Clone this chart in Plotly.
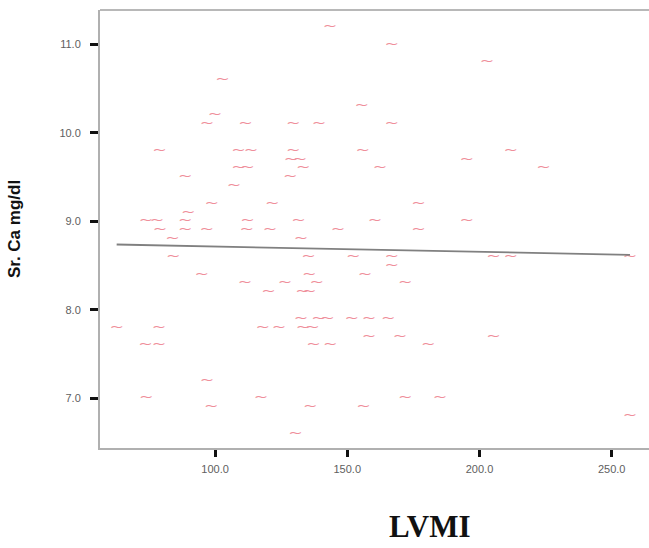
import numpy as np
import plotly.graph_objects as go

# LVMI (x) and serum calcium (y), one entry per subject
lvmi = [143.5, 166.8, 202.8, 102.8, 155.5, 100.0, 97.0, 111.5, 129.6, 139.3,
        166.8, 79.0, 108.9, 113.6, 129.6, 155.9, 211.8, 128.7, 132.1, 195.2,
        108.9, 112.3, 133.4, 162.4, 224.2, 88.7, 128.4, 107.2, 98.8, 121.6,
        176.9, 89.9, 73.9, 78.1, 88.7, 112.3, 131.6, 160.5, 195.2, 79.2,
        88.7, 96.9, 112.0, 120.8, 146.5, 176.9, 83.9, 132.5, 84.2, 135.3,
        152.3, 166.8, 205.3, 211.8, 256.9, 166.8, 95.0, 135.6, 156.7, 111.3,
        126.5, 138.5, 171.9, 120.2, 133.1, 135.6, 132.5, 139.1, 142.5, 151.7,
        158.2, 165.5, 62.8, 78.8, 118.0, 124.2, 133.3, 136.9, 158.2, 169.9,
        205.3, 73.7, 78.8, 137.2, 143.6, 180.6, 97.0, 74.0, 117.4, 171.9,
        185.1, 98.6, 136.0, 156.1, 256.9, 130.4]
calcium = [11.2, 11.0, 10.8, 10.6, 10.3, 10.2, 10.1, 10.1, 10.1, 10.1,
           10.1, 9.8, 9.8, 9.8, 9.8, 9.8, 9.8, 9.7, 9.7, 9.7,
           9.6, 9.6, 9.6, 9.6, 9.6, 9.5, 9.5, 9.4, 9.2, 9.2,
           9.2, 9.1, 9.0, 9.0, 9.0, 9.0, 9.0, 9.0, 9.0, 8.9,
           8.9, 8.9, 8.9, 8.9, 8.9, 8.9, 8.8, 8.8, 8.6, 8.6,
           8.6, 8.6, 8.6, 8.6, 8.6, 8.5, 8.4, 8.4, 8.4, 8.3,
           8.3, 8.3, 8.3, 8.2, 8.2, 8.2, 7.9, 7.9, 7.9, 7.9,
           7.9, 7.9, 7.8, 7.8, 7.8, 7.8, 7.8, 7.8, 7.7, 7.7,
           7.7, 7.6, 7.6, 7.6, 7.6, 7.6, 7.2, 7.0, 7.0, 7.0,
           7.0, 6.9, 6.9, 6.9, 6.8, 6.6]

x_ticks = [100.0, 150.0, 200.0, 250.0]
y_ticks = [7.0, 8.0, 9.0, 10.0, 11.0]

# least-squares linear fit over the observed LVMI range
slope, intercept = np.polyfit(lvmi, calcium, 1)
fit_x = np.array([min(lvmi), max(lvmi)])
fit_y = slope * fit_x + intercept

fig = go.Figure()
fig.add_trace(go.Scatter(
    x=lvmi, y=calcium, mode="text", text=["\u2053"] * len(lvmi),
    textfont=dict(family="DejaVu Sans", size=12, color="#ef8e9a"),
    hoverinfo="x+y", showlegend=False,
))
fig.add_trace(go.Scatter(
    x=fit_x, y=fit_y, mode="lines",
    line=dict(color="#808080", width=1.8), showlegend=False,
))

axis_font = dict(family="Arial", size=11, color="#606060")
fig.update_layout(
    width=649, height=548,
    margin=dict(l=100, r=0, t=10, b=100),
    paper_bgcolor="white", plot_bgcolor="white",
    xaxis=dict(
        range=[56.5, 264.1], tickvals=x_ticks,
        ticktext=[f"{v:.1f}" for v in x_ticks],
        showgrid=False, zeroline=False,
        showline=True, linecolor="#b0b0b0", linewidth=2,
        ticks="outside", ticklen=7, tickwidth=3, tickcolor="#111111",
        tickfont=axis_font, ticklabelstandoff=3,
    ),
    yaxis=dict(
        range=[6.44, 11.39], tickvals=y_ticks,
        ticktext=[f"{v:.1f}" for v in y_ticks],
        showgrid=False, zeroline=False,
        showline=True, linecolor="#b0b0b0", linewidth=2,
        ticks="outside", ticklen=8, tickwidth=3, tickcolor="#111111",
        tickfont=axis_font, ticklabelstandoff=7,
        title=dict(text="<b>Sr. Ca mg/dl</b>", standoff=34,
                   font=dict(family="Arial", size=17, color="#111111")),
    ),
    shapes=[dict(type="line", xref="paper", yref="paper", x0=0, x1=1,
                 y0=1, y1=1, line=dict(color="#b8b8b8", width=2))],
    annotations=[dict(
        text="<b>LVMI</b>", xref="paper", yref="paper", x=0.601, y=-0.18,
        xanchor="center", yanchor="middle", showarrow=False,
        font=dict(family="Liberation Serif", size=31, color="#111111"),
    )],
)

fig.write_html("out.html")
